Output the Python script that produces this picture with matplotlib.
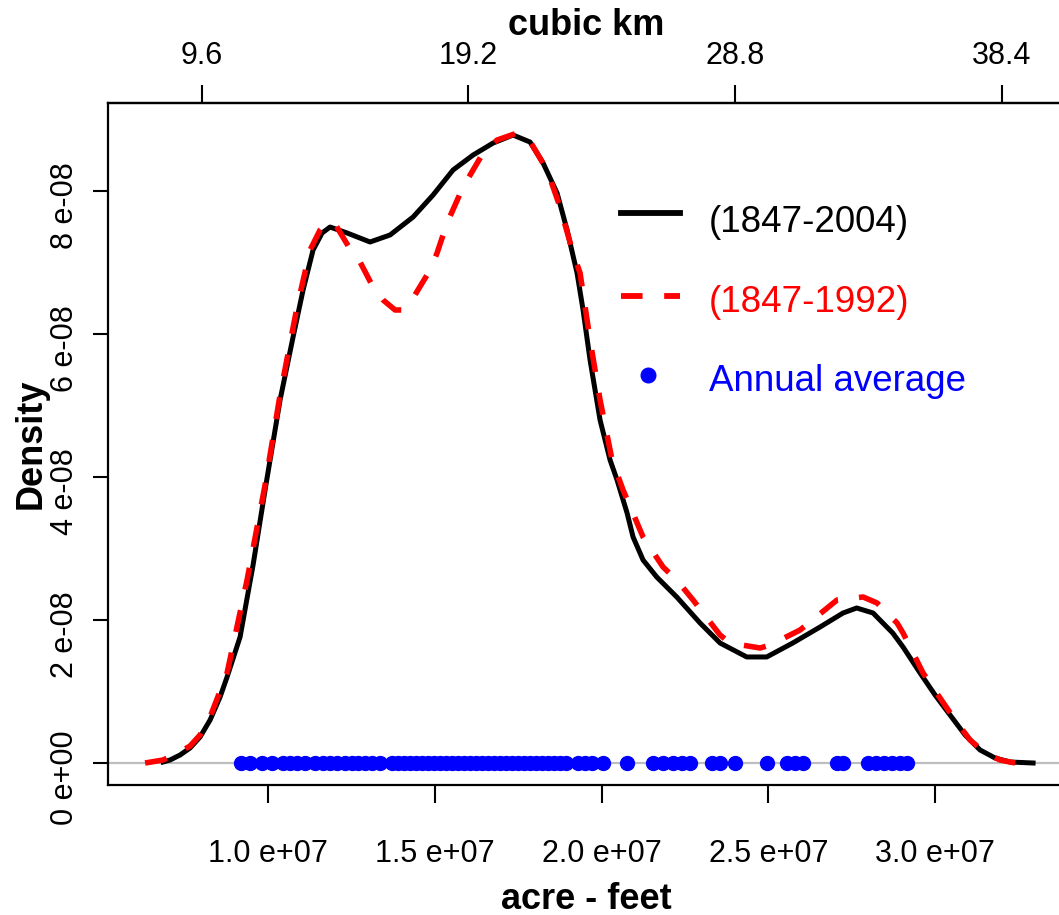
import numpy as np
import matplotlib
matplotlib.use("Agg")
import matplotlib.pyplot as plt
from matplotlib.transforms import ScaledTranslation

plt.rcParams['font.family'] = ['Liberation Sans', 'DejaVu Sans']

# ---- data (x in million acre-feet, density in 1e-8) ----
black_x = [6.84, 7.05, 7.35, 7.65, 7.95, 8.25, 8.55, 8.76, 9.15, 9.54, 9.90, 10.35, 10.74, 11.04,
           11.34, 11.61, 11.85, 12.36, 13.05, 13.65, 14.34, 14.94, 15.54, 16.14, 16.74, 17.34,
           17.85, 18.24, 18.66, 18.96, 19.26, 19.44, 19.65, 19.95, 20.25, 20.46, 20.76, 20.94,
           21.24, 21.65, 22.25, 22.95, 23.55, 24.35, 24.95, 25.73, 26.55, 27.24, 27.65, 28.14,
           28.73, 29.04, 29.55, 30.00, 30.45, 30.90, 31.35, 31.80, 32.25, 32.94]
black_d = [0.014, 0.042, 0.112, 0.210, 0.364, 0.601, 0.923, 1.203, 1.762, 2.769, 3.818, 5.077,
           5.958, 6.615, 7.175, 7.413, 7.496, 7.413, 7.287, 7.385, 7.636, 7.944, 8.294, 8.503,
           8.671, 8.783, 8.685, 8.392, 7.972, 7.455, 6.853, 6.336, 5.636, 4.797, 4.238, 3.958,
           3.497, 3.161, 2.839, 2.601, 2.322, 1.958, 1.678, 1.483, 1.483, 1.678, 1.902, 2.098,
           2.168, 2.098, 1.818, 1.622, 1.259, 0.951, 0.671, 0.392, 0.182, 0.070, 0.014, 0.0]

red_x = [6.30, 6.84, 7.35, 7.65, 7.95, 8.25, 8.76, 9.36, 9.90, 10.35, 10.86, 11.25, 11.55, 11.76,
         12.00, 12.45, 12.75, 13.14, 13.44, 13.80, 14.01, 14.34, 14.85, 15.06, 15.36, 15.84,
         16.44, 16.86, 17.46, 17.79, 18.36, 18.75, 19.14, 19.35, 19.65, 19.95, 20.31, 20.64,
         21.24, 21.84, 22.25, 22.74, 23.04, 23.55, 23.85, 24.75, 25.05, 25.95, 27.06, 27.84,
         28.26, 28.86, 29.04, 29.64, 30.15, 30.60, 31.05, 31.50, 31.95, 32.40]
red_d = [0.0, 0.042, 0.154, 0.238, 0.392, 0.643, 1.259, 2.559, 3.888, 5.147, 6.378, 7.175, 7.455,
         7.566, 7.538, 7.189, 7.007, 6.657, 6.476, 6.336, 6.336, 6.503, 6.895, 7.133, 7.552,
         8.056, 8.531, 8.713, 8.811, 8.741, 8.294, 7.776, 7.133, 6.853, 5.916, 5.077, 4.238,
         3.818, 3.161, 2.741, 2.559, 2.280, 2.098, 1.790, 1.678, 1.608, 1.650, 1.860, 2.280,
         2.322, 2.238, 1.958, 1.818, 1.259, 0.909, 0.601, 0.322, 0.140, 0.042, 0.0]

annual = [9.18, 9.45, 9.81, 10.11, 10.44, 10.65, 10.86, 11.10, 11.40, 11.64, 11.85, 12.06, 12.30,
          12.51, 12.69, 12.90, 13.11, 13.35, 13.71, 13.89, 14.07, 14.25, 14.43, 14.61, 14.79,
          14.97, 15.15, 15.33, 15.51, 15.69, 15.87, 16.05, 16.23, 16.41, 16.59, 16.77, 16.95,
          17.13, 17.31, 17.49, 17.67, 17.85, 18.03, 18.21, 18.39, 18.57, 18.75, 18.93, 19.29,
          19.50, 19.71, 20.04, 20.76, 21.54, 21.84, 22.14, 22.41, 22.65, 23.31, 23.55, 24.00,
          24.96, 25.56, 25.80, 26.04, 27.06, 27.24, 27.99, 28.23, 28.47, 28.71, 28.95, 29.16]

x_ticks = [1.0e7, 1.5e7, 2.0e7, 2.5e7, 3.0e7]
x_ticklabels = ["1.0 e+07", "1.5 e+07", "2.0 e+07", "2.5 e+07", "3.0 e+07"]
y_ticks = [0, 2e-8, 4e-8, 6e-8, 8e-8]
y_ticklabels = ["0 e+00", "2 e-08", "4 e-08", "6 e-08", "8 e-08"]
top_ticks = [9.6, 19.2, 28.8, 38.4]
top_ticklabels = ["9.6", "19.2", "28.8", "38.4"]
legend_labels = ["(1847-2004)", "(1847-1992)", "Annual average"]

AF = 1e6
DS = 1e-8
KM_PER_AF = 1.2e-6

W, H = 1059, 915
fig = plt.figure(figsize=(W / 100, H / 100), dpi=100)
ax = fig.add_axes([108 / W, 1 - 785 / H, (1064 - 108) / W, (785 - 103) / H])

ax.set_xlim(5.188e6, 5.188e6 + (1064 - 108) * 30000)
ax.set_ylim(-0.3077e-8, 9.231e-8)

ax.axhline(0, color='#bebebe', lw=1.6, zorder=1)
ax.plot(np.array(black_x) * AF, np.array(black_d) * DS, color='black', lw=3.6,
        solid_joinstyle='round', zorder=2)
ax.plot(np.array(red_x) * AF, np.array(red_d) * DS, color='#ff0000', lw=4.0,
        dashes=(4, 3.8), zorder=3)
ax.plot(np.array(annual) * AF, np.zeros(len(annual)), 'o', color='#0000ff', ms=10,
        mec='#0000ff', zorder=4, clip_on=False)

for s in ['left', 'bottom', 'top']:
    ax.spines[s].set_linewidth(1.6)
ax.spines['right'].set_visible(False)

ax.set_xticks(x_ticks)
ax.set_xticklabels(x_ticklabels, fontsize=22)
ax.tick_params(axis='x', length=13, width=1.5, pad=26)
ax.set_yticks(y_ticks)
ax.set_yticklabels(y_ticklabels, fontsize=22, rotation=90, va='center')
ax.tick_params(axis='y', length=11, width=1.5, pad=9)
for lab in ax.get_yticklabels():
    lab.set_transform(lab.get_transform() + ScaledTranslation(0, -15 / 100, fig.dpi_scale_trans))

ax.set_xlabel("acre - feet", fontsize=26, fontweight='bold', labelpad=9)
ax.set_ylabel("Density", fontsize=26, fontweight='bold', labelpad=1)

top = ax.secondary_xaxis('top', functions=(lambda v: v * KM_PER_AF, lambda v: v / KM_PER_AF))
top.set_xticks(top_ticks)
top.set_xticklabels(top_ticklabels, fontsize=22)
top.tick_params(length=13, width=1.5, pad=10)
top.spines['top'].set_linewidth(1.6)
top.set_xlabel("cubic km", fontsize=26, fontweight='bold', labelpad=4)

# legend (drawn manually, R style)
def fx(px):
    return px / W

def fy(py):
    return 1 - py / H

fig.add_artist(plt.Line2D([fx(621), fx(680)], [fy(213), fy(213)], color='black', lw=4.2))
fig.add_artist(plt.Line2D([fx(621), fx(680)], [fy(296), fy(296)], color='#ff0000', lw=4.2,
                          dashes=(3.7, 3.7)))
fig.add_artist(plt.Line2D([fx(648)], [fy(375)], marker='o', color='#0000ff', ms=10.5, lw=0))
fig.text(fx(709), fy(232), legend_labels[0], fontsize=26.5, color='black', va='baseline')
fig.text(fx(709), fy(312), legend_labels[1], fontsize=26.5, color='#ff0000', va='baseline')
fig.text(fx(709), fy(391), legend_labels[2], fontsize=26.5, color='#0000ff', va='baseline')

fig.savefig("out.png", dpi=100)
